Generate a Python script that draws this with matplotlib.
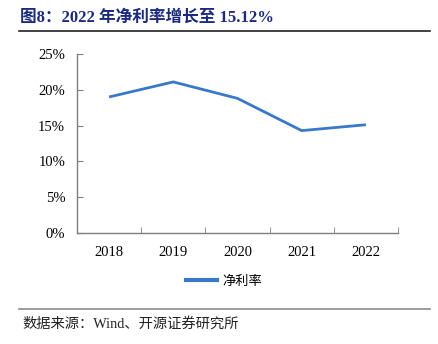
import matplotlib
matplotlib.use("Agg")
from matplotlib import pyplot as plt
from matplotlib.lines import Line2D

years = ["2018", "2019", "2020", "2021", "2022"]
net_margin = [19.0, 21.1, 18.8, 14.3, 15.12]  # 净利率, %
y_ticks = [0, 5, 10, 15, 20, 25]

title = "图8：2022 年净利率增长至 15.12%"
source = "数据来源：Wind、开源证券研究所"
legend_label = "净利率"

serif = ["Liberation Serif", "Noto Sans CJK SC"]
cjk = ["Noto Sans CJK SC", "DejaVu Sans"]
line_color = "#3a78c9"
axis_color = "#7f7f7f"

fig = plt.figure(figsize=(4.38, 3.44), dpi=100)
W, H = 438, 344
ax = fig.add_axes([77 / W, 1 - 233 / H, (398 - 77) / W, (233 - 54) / H])

x = list(range(len(years)))
ax.plot(x, net_margin, color=line_color, lw=2.0, solid_capstyle="butt")

ax.set_xlim(-0.5, len(years) - 0.5)
ax.set_ylim(0, 25)
ax.set_yticks(y_ticks)
ax.set_yticklabels([f"{v}%" for v in y_ticks], family=serif, fontsize=10.5)
ax.set_xticks(x)
ax.set_xticklabels(years, family=serif, fontsize=10.5)
ax.set_xticks([i - 0.5 for i in range(len(years) + 1)], minor=True)

ax.tick_params(axis="x", which="major", length=0, pad=9)
ax.tick_params(axis="x", which="minor", direction="in", length=4, color=axis_color)
ax.tick_params(axis="y", direction="in", length=4, pad=8.5, color=axis_color)

for s in ["top", "right"]:
    ax.spines[s].set_visible(False)
for s in ["left", "bottom"]:
    ax.spines[s].set_color(axis_color)
    ax.spines[s].set_linewidth(1.0)

# legend below the axes
handle = Line2D([], [], color=line_color, lw=3)
fig.legend([handle], [legend_label], loc="center", bbox_to_anchor=(224 / W, 1 - 281 / H),
           frameon=False, prop={"family": cjk, "size": 9.5}, handlelength=2.3,
           handletextpad=0.4)

# title and rules
fig.text(20 / W, 1 - 18 / H, title, family=serif,
         fontsize=12, fontweight="bold", color="#1c2a7c", va="center", ha="left")
fig.add_artist(Line2D([19 / W, 430 / W], [1 - 31 / H, 1 - 31 / H], color="#222222", lw=1.2))
fig.add_artist(Line2D([19 / W, 430 / W], [1 - 309 / H, 1 - 309 / H], color="#8a8a8a", lw=1.2))
fig.text(22 / W, 1 - 324 / H, source, family=serif,
         fontsize=10.3, color="#222222", va="center", ha="left")

fig.savefig("out.png", dpi=100)
